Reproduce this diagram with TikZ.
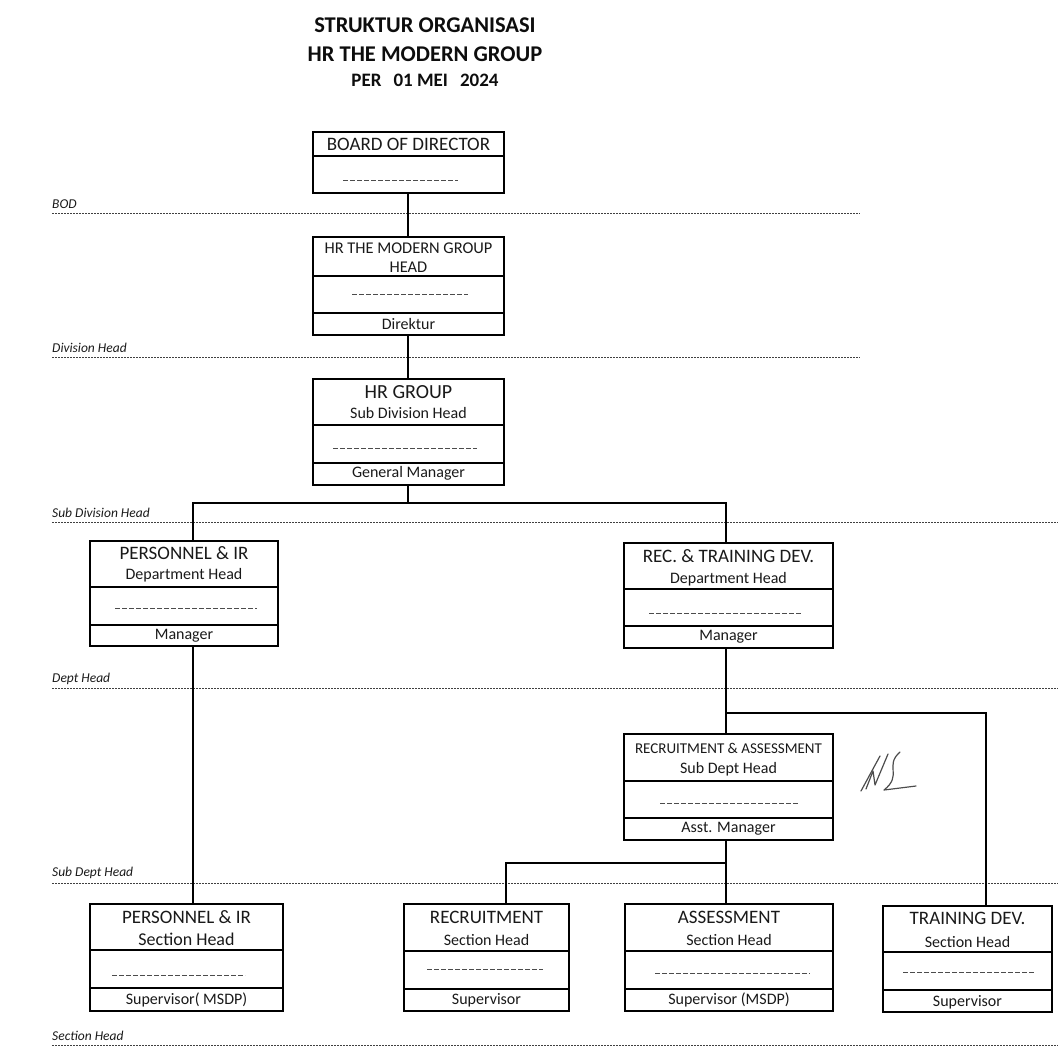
\documentclass[tikz,border=0pt]{standalone}
\usepackage{fontspec}
\setmainfont{Carlito}
\tikzset{
  box/.style={draw,line width=1.6pt,inner sep=0pt},
  conn/.style={line width=1.6pt},
  lvl/.style={line width=0.9pt,black!75,dash pattern=on 2pt off 1pt},
  fillin/.style={line width=0.8pt,black!70,dash pattern=on 5pt off 2pt},
  lbl/.style={anchor=west,inner sep=0pt,font=\fontsize{13.5}{15}\selectfont\itshape,black!90},
  ttl/.style={inner sep=0pt,font=\fontsize{22.5}{26}\selectfont\bfseries,black!95},
  hd/.style={inner sep=0pt,font=\fontsize{19}{22}\selectfont,black!90},
  sub/.style={inner sep=0pt,font=\fontsize{16}{19}\selectfont,black!90},
  sig/.style={line width=1.2pt,black!70,line cap=round,line join=round}
}
\begin{document}
\begin{tikzpicture}[x=1pt,y=-1pt]
				\useasboundingbox (0,0) rectangle (1058,1050);
				\node[ttl] (t1) at (425,25) {STRUKTUR ORGANISASI};
				\node[ttl] (t2) at (425,54) {HR THE MODERN GROUP};
				\node[ttl,font=\fontsize{19}{22}\selectfont\bfseries] (t3) at (425,80) {PER\hspace{12pt}01 MEI\hspace{12pt}2024};
				\coordinate (cx0) at (408,0);
				\coordinate (cx1) at (193,0);
				\coordinate (cx2) at (506,0);
				\coordinate (cx3) at (726,0);
				\coordinate (cx4) at (986,0);
				\coordinate (j1) at (408,503);
				\coordinate (j2) at (726,713);
				\coordinate (j3) at (726,863);
				\draw [lvl] (52,213) -- (860,213);
				\draw [lvl] (52,357) -- (860,357);
				\draw [lvl] (52,522) -- (1058,522);
				\draw [lvl] (52,688) -- (1058,688);
				\draw [lvl] (52,883) -- (1058,883);
				\draw [lvl] (52,1045) -- (1058,1045);
				\node[lbl] (l1) at (52,204) {BOD};
				\node[lbl] (l2) at (52,348) {Division Head};
				\node[lbl] (l3) at (52,513) {Sub Division Head};
				\node[lbl] (l4) at (52,679) {Dept Head};
				\node[lbl] (l5) at (52,873) {Sub Dept Head};
				\node[lbl] (l6) at (52,1036) {Section Head};
				\node[box,minimum width=191pt,minimum height=61pt] (bod) at (408.5,162.5) {};
				\node[box,minimum width=191pt,minimum height=98pt] (hrh) at (408.5,286) {};
				\node[box,minimum width=191pt,minimum height=106pt] (hrg) at (408.5,432) {};
				\node[box,minimum width=188pt,minimum height=105pt] (pird) at (184,593.5) {};
				\node[box,minimum width=209pt,minimum height=105pt] (rtd) at (728.5,595.5) {};
				\node[box,minimum width=209pt,minimum height=106pt] (ra) at (728.5,787) {};
				\node[box,minimum width=193pt,minimum height=107pt] (pirs) at (186.5,957.5) {};
				\node[box,minimum width=165pt,minimum height=107pt] (rec) at (486.5,957.5) {};
				\node[box,minimum width=208pt,minimum height=107pt] (ass) at (729,957.5) {};
				\node[box,minimum width=169pt,minimum height=106pt] (trd) at (967.5,959) {};
				\draw [line width=1.6pt] (bod.west |- 0,156) -- (bod.east |- 0,156);
				\draw [line width=1.6pt] (hrh.west |- 0,276) -- (hrh.east |- 0,276);
				\draw [line width=1.6pt] (hrh.west |- 0,313) -- (hrh.east |- 0,313);
				\draw [line width=1.6pt] (hrg.west |- 0,425) -- (hrg.east |- 0,425);
				\draw [line width=1.6pt] (hrg.west |- 0,463) -- (hrg.east |- 0,463);
				\draw [line width=1.6pt] (pird.west |- 0,587) -- (pird.east |- 0,587);
				\draw [line width=1.6pt] (pird.west |- 0,625) -- (pird.east |- 0,625);
				\draw [line width=1.6pt] (rtd.west |- 0,589) -- (rtd.east |- 0,589);
				\draw [line width=1.6pt] (rtd.west |- 0,626) -- (rtd.east |- 0,626);
				\draw [line width=1.6pt] (ra.west |- 0,781) -- (ra.east |- 0,781);
				\draw [line width=1.6pt] (ra.west |- 0,818) -- (ra.east |- 0,818);
				\draw [line width=1.6pt] (pirs.west |- 0,950) -- (pirs.east |- 0,950);
				\draw [line width=1.6pt] (pirs.west |- 0,988) -- (pirs.east |- 0,988);
				\draw [line width=1.6pt] (rec.west |- 0,951) -- (rec.east |- 0,951);
				\draw [line width=1.6pt] (rec.west |- 0,989) -- (rec.east |- 0,989);
				\draw [line width=1.6pt] (ass.west |- 0,951) -- (ass.east |- 0,951);
				\draw [line width=1.6pt] (ass.west |- 0,989) -- (ass.east |- 0,989);
				\draw [line width=1.6pt] (trd.west |- 0,952) -- (trd.east |- 0,952);
				\draw [line width=1.6pt] (trd.west |- 0,990) -- (trd.east |- 0,990);
				\draw [fillin] (343,180) -- (458,180);
				\draw [fillin] (352,294) -- (468,294);
				\draw [fillin] (333,448) -- (477,448);
				\draw [fillin] (115,608) -- (257,608);
				\draw [fillin] (649,613) -- (801,613);
				\draw [fillin] (660,803) -- (798,803);
				\draw [fillin] (112,975) -- (245,975);
				\draw [fillin] (427,969) -- (543,969);
				\draw [fillin] (655,973) -- (810,973);
				\draw [fillin] (903,972) -- (1035,972);
				\node[hd] (bod-a) at (408.5,144) {BOARD OF DIRECTOR};
				\node[sub,font=\fontsize{16.4}{19}\selectfont] (hrh-a) at (408.5,248) {HR THE MODERN GROUP};
				\node[sub,font=\fontsize{16.4}{19}\selectfont] (hrh-b) at (408.5,267) {HEAD};
				\node[sub] (hrh-c) at (408.5,324) {Direktur};
				\node[hd,font=\fontsize{20}{23}\selectfont] (hrg-a) at (408.5,392) {HR GROUP};
				\node[sub] (hrg-b) at (408.5,413) {Sub Division Head};
				\node[sub] (hrg-c) at (408.5,473) {General Manager};
				\node[hd] (pird-a) at (184,553) {PERSONNEL \& IR};
				\node[sub] (pird-b) at (184,575) {Department Head};
				\node[sub] (pird-c) at (184,636) {Manager};
				\node[hd] (rtd-a) at (728.5,556) {REC. \& TRAINING DEV.};
				\node[sub] (rtd-b) at (728.5,579) {Department Head};
				\node[sub] (rtd-c) at (728.5,637) {Manager};
				\node[sub,font=\fontsize{15}{18}\selectfont] (ra-a) at (728.5,748) {RECRUITMENT \& ASSESSMENT};
				\node[sub] (ra-b) at (728.5,769) {Sub Dept Head};
				\node[sub] (ra-c) at (728.5,829) {Asst. Manager};
				\node[hd] (pirs-a) at (186.5,917) {PERSONNEL \& IR};
				\node[hd,font=\fontsize{18}{21}\selectfont] (pirs-b) at (186.5,939) {Section Head};
				\node[sub] (pirs-c) at (186.5,1000) {Supervisor( MSDP)};
				\node[hd] (rec-a) at (486.5,917) {RECRUITMENT};
				\node[sub] (rec-b) at (486.5,940) {Section Head};
				\node[sub] (rec-c) at (486.5,1000) {Supervisor};
				\node[hd] (ass-a) at (729,917) {ASSESSMENT};
				\node[sub] (ass-b) at (729,940) {Section Head};
				\node[sub] (ass-c) at (729,1000) {Supervisor (MSDP)};
				\node[hd] (trd-a) at (967.5,918) {TRAINING DEV.};
				\node[sub] (trd-b) at (967.5,942) {Section Head};
				\node[sub] (trd-c) at (967.5,1002) {Supervisor};
				\draw [conn] (bod.south -| cx0) -- (hrh.north -| cx0);
				\draw [conn] (hrh.south -| cx0) -- (hrg.north -| cx0);
				\draw [conn] (hrg.south -| cx0) -- (j1);
				\draw [conn] (pird.north -| cx1) |- (j1) -| (rtd.north -| cx3);
				\draw [conn] (pird.south -| cx1) -- (pirs.north -| cx1);
				\draw [conn] (rtd.south -| cx3) -- (ra.north -| cx3);
				\draw [conn] (j2) -| (trd.north -| cx4);
				\draw [conn] (ra.south -| cx3) -- (ass.north -| cx3);
				\draw [conn] (j3) -| (rec.north -| cx2);
				\draw [sig] (861,791) -- (880,756);
				\draw [sig] (866,789) -- (873,771) -- (875,785) -- (888,754);
				\draw [sig] (900,752) .. controls (884,766) and (903,775) .. (884,790) -- (916,786);
			\end{tikzpicture}
\end{document}
